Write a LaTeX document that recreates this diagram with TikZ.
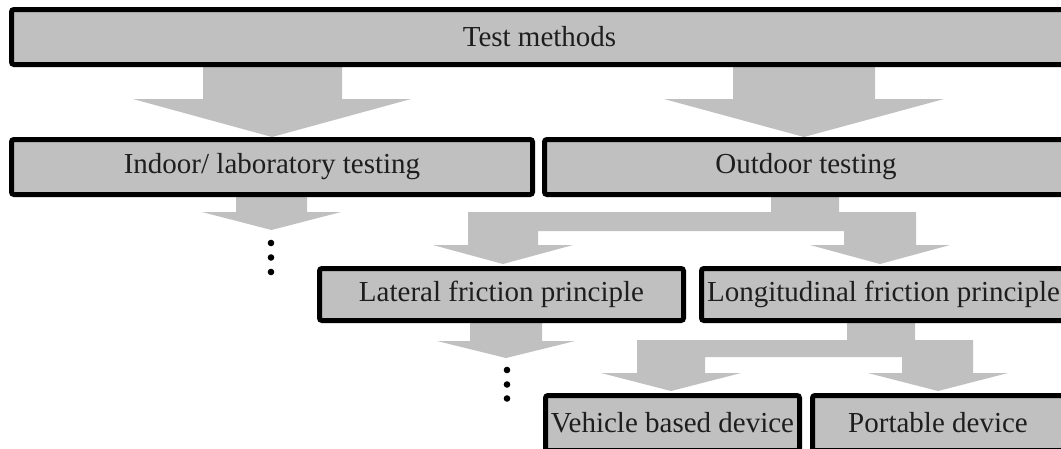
\documentclass[tikz,border=0pt]{standalone}
\usepackage{fontspec}
\setmainfont{Liberation Serif}
\definecolor{fillgray}{RGB}{192,192,192}
\definecolor{textgray}{RGB}{30,30,30}
\tikzset{
  box/.style={draw=black, line width=5pt, fill=fillgray, rounded corners=2.5pt,
    inner sep=0pt, outer sep=0pt, text=textgray,
    font=\fontsize{29}{34}\selectfont},
  blockarrow/.style={fill=fillgray, draw=none},
  dotmark/.style={fill=black, draw=none}
}
\begin{document}
\begin{tikzpicture}[x=1pt, y=-1pt]
\useasboundingbox (0,0) rectangle (1061,448);
\clip (0,0) rectangle (1061,448);
\fill[white] (0,0) rectangle (1061,448);

% block arrows (behind the boxes)
% Test methods -> Indoor
\fill[blockarrow] (203,64) -- (203,99) -- (133,99) -- (272,137) -- (411,99) -- (342,99) -- (342,64) -- cycle;
% Test methods -> Outdoor
\fill[blockarrow] (733,64) -- (733,99) -- (664,99) -- (804,137) -- (944,99) -- (875,99) -- (875,64) -- cycle;
% Indoor -> dots
\fill[blockarrow] (236,195) -- (236,212) -- (202,212) -- (271.5,230) -- (341,212) -- (307,212) -- (307,195) -- cycle;
% Outdoor -> split
\fill[blockarrow] (771,195) -- (771,212) -- (468,212) -- (468,245) -- (433,245) -- (503,264)
  -- (573,245) -- (538,245) -- (538,231) -- (844,231) -- (844,245) -- (810,245) -- (880,264)
  -- (950,245) -- (916,245) -- (916,212) -- (839,212) -- (839,195) -- cycle;
% Lateral -> dots
\fill[blockarrow] (470,321) -- (470,341) -- (437,341) -- (506,358) -- (575,341) -- (542,341) -- (542,321) -- cycle;
% Longitudinal -> split
\fill[blockarrow] (847,321) -- (847,340) -- (637,340) -- (637,373) -- (601,373) -- (671,391)
  -- (741,373) -- (705,373) -- (705,357) -- (902,357) -- (902,373) -- (868,373) -- (938,391)
  -- (1008,373) -- (973,373) -- (973,340) -- (915,340) -- (915,321) -- cycle;

% boxes
\node[box, minimum width=1056pt, minimum height=55pt] (tm) at (539.5,37) {Test methods};
\node[box, minimum width=521pt, minimum height=55pt] (indoor) at (272,167) {Indoor/ laboratory testing};
\node[box, minimum width=523pt, minimum height=55pt] (outdoor) at (806,167) {Outdoor testing};
\node[box, minimum width=364pt, minimum height=52pt] (lateral) at (501.5,294.5) {Lateral friction principle};
\node[box, minimum width=364pt, minimum height=52pt] (longi) at (883.5,294.5) {Longitudinal friction principle};
\node[box, minimum width=254pt, minimum height=55pt] (vehicle) at (672.5,423) {Vehicle based device};
\node[box, minimum width=251pt, minimum height=55pt] (portable) at (938,423) {Portable device};

% continuation dots
\fill[dotmark] (271,243) circle (3.3);
\fill[dotmark] (271,257.5) circle (3.3);
\fill[dotmark] (271,272) circle (3.3);
\fill[dotmark] (507,370) circle (3.3);
\fill[dotmark] (507,384.5) circle (3.3);
\fill[dotmark] (507,398.5) circle (3.3);
\end{tikzpicture}
\end{document}
